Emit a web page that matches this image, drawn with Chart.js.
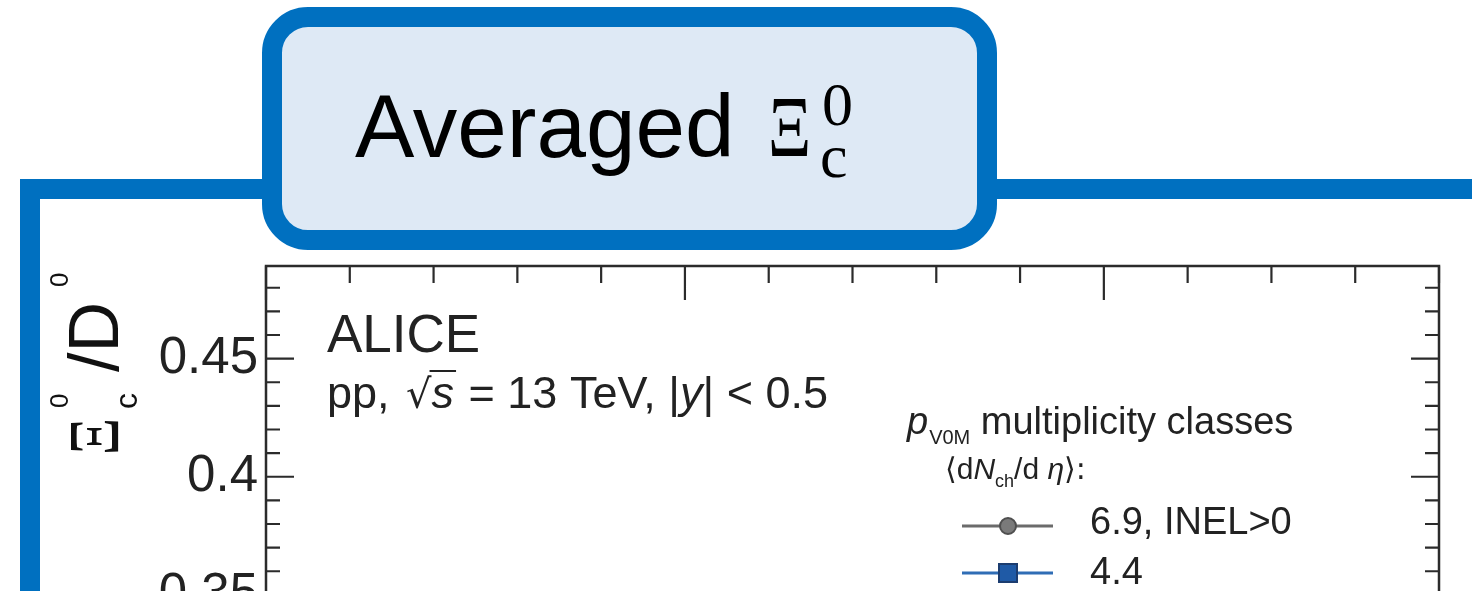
<!DOCTYPE html>
<html>
<head>
<meta charset="utf-8">
<script src="https://cdn.jsdelivr.net/npm/chart.js@4.4.1/dist/chart.umd.min.js"></script>
<style>
  html, body { margin: 0; padding: 0; width: 1472px; height: 591px; overflow: hidden; background: #fff; }
  #plot { position: absolute; left: 0; top: 0; width: 1472px; height: 713px; }
  #frame { position: absolute; left: 20px; top: 179px; width: 1472px; height: 600px;
           border-left: 20px solid #0070C0; border-top: 20px solid #0070C0; }
  #title { position: absolute; left: 262px; top: 7px; width: 695px; height: 203px;
           border: 20px solid #0070C0; border-radius: 46px; background: #DEE9F5; }
  .t { position: absolute; line-height: 1; white-space: nowrap; color: #000; }
  .sans { font-family: "Liberation Sans", Arial, Helvetica, sans-serif; }
  .serif { font-family: "Liberation Serif", "Times New Roman", serif; }
</style>
</head>
<body>
<div id="plot"><canvas id="ratio"></canvas></div>
<div id="frame"></div>
<div id="title"></div>
<span class="t sans" style="left:355px; top:82px; font-size:89px;">Averaged</span>
<span class="t serif" style="left:768px; top:84px; font-size:86px; display:inline-block; transform:scaleX(0.78); transform-origin:0 0;">Ξ</span>
<span class="t serif" style="left:822px; top:73px; font-size:62px;">0</span>
<span class="t serif" style="left:820px; top:125px; font-size:62px;">c</span>

<script>
const pTRange = [0, 14];
const ratioRange = [0.30, 0.4892];
const pTStep = 1;
const ratioStep = 0.01;
const ratioTickLabels = ['0.35', '0.4', '0.45'];

// multiplicity classes shown in the legend
const multClasses = ['6.9, INEL>0', '4.4'];
// no data point falls inside the visible part of the frame
const inelValues = [];
const class44Values = [];

const SANS = '"Liberation Sans", Arial, Helvetica, sans-serif';
const SERIF = '"Liberation Serif", "Times New Roman", serif';
const INK = '#222';

function runs(ctx, x, y, parts) {
  parts.forEach(p => {
    ctx.font = p.font;
    ctx.fillText(p.t, x, y + (p.dy || 0));
    p.x0 = x;
    x += ctx.measureText(p.t).width + (p.gap || 0);
    p.x1 = x;
  });
  return x;
}

const rootFrame = {
  id: 'rootFrame',
  afterDraw(chart) {
    const { ctx, chartArea: a, scales: { x, y } } = chart;
    ctx.save();
    ctx.strokeStyle = '#2b2b2b';
    ctx.lineWidth = 2.5;
    ctx.strokeRect(a.left, a.top, a.right - a.left, a.bottom - a.top);

    // inward ticks on all four sides
    ctx.lineWidth = 2.2;
    ctx.beginPath();
    x.ticks.forEach(t => {
      const px = x.getPixelForValue(t.value);
      const len = t.value % 5 === 0 ? 34 : 17;
      ctx.moveTo(px, a.top); ctx.lineTo(px, a.top + len);
      ctx.moveTo(px, a.bottom); ctx.lineTo(px, a.bottom - len);
    });
    y.ticks.forEach(t => {
      const py = y.getPixelForValue(t.value);
      const major = Math.abs(t.value * 20 - Math.round(t.value * 20)) < 1e-6;
      const len = major ? 28 : 14;
      ctx.moveTo(a.left, py); ctx.lineTo(a.left + len, py);
      ctx.moveTo(a.right, py); ctx.lineTo(a.right - len, py);
    });
    ctx.stroke();

    ctx.fillStyle = INK;
    ctx.textAlign = 'left';
    ctx.textBaseline = 'alphabetic';

    // labels in the frame
    ctx.font = `53px ${SANS}`;
    ctx.fillText('ALICE', a.left + 61, a.top + 86);
    const pp = [
      { t: 'pp, ', font: `45px ${SANS}`, gap: 4 },
      { t: '√', font: `40px "DejaVu Sans", ${SANS}` },
      { t: 's', font: `italic 45px ${SANS}`, gap: 2 },
      { t: ' = 13 TeV, |', font: `45px ${SANS}` },
      { t: 'y', font: `italic 45px ${SANS}` },
      { t: '| < 0.5', font: `45px ${SANS}` }
    ];
    const ppBase = a.top + 142;
    runs(ctx, a.left + 61, ppBase, pp);
    ctx.lineWidth = 2;
    ctx.strokeStyle = INK;
    ctx.beginPath();
    ctx.moveTo(pp[1].x1 - 2, ppBase - 37);
    ctx.lineTo(pp[2].x1, ppBase - 37);
    ctx.stroke();

    // legend
    runs(ctx, a.left + 641, a.top + 168, [
      { t: 'p', font: `italic 38px ${SANS}`, gap: 1 },
      { t: 'V0M', font: `20px ${SANS}`, dy: 10 },
      { t: ' multiplicity classes', font: `38px ${SANS}` }
    ]);
    runs(ctx, a.left + 679, a.top + 213, [
      { t: '⟨', font: `30px "DejaVu Sans", ${SANS}` },
      { t: 'd', font: `30px ${SANS}` },
      { t: 'N', font: `italic 30px ${SANS}` },
      { t: 'ch', font: `18px ${SANS}`, dy: 8 },
      { t: '/d ', font: `30px ${SANS}` },
      { t: 'η', font: `italic 30px ${SANS}` },
      { t: '⟩:', font: `30px "DejaVu Sans", ${SANS}` }
    ]);
    chart.data.datasets.forEach((ds, i) => {
      const ly = a.top + 260 + i * 47;
      const mx = a.left + 742;
      ctx.strokeStyle = ds.borderColor;
      ctx.lineWidth = 3;
      ctx.beginPath();
      ctx.moveTo(a.left + 696, ly); ctx.lineTo(a.left + 787, ly);
      ctx.stroke();
      ctx.fillStyle = ds.backgroundColor;
      ctx.strokeStyle = ds.pointBorderColor;
      ctx.lineWidth = 2;
      const r = ds.pointRadius;
      ctx.beginPath();
      if (ds.pointStyle === 'rect') ctx.rect(mx - r, ly - r, 2 * r, 2 * r);
      else ctx.arc(mx, ly, r, 0, Math.PI * 2);
      ctx.fill();
      ctx.stroke();
      ctx.fillStyle = INK;
      ctx.font = `38px ${SANS}`;
      ctx.fillText(ds.label, a.left + 824, ly + 8 + (i ? 3 : 0));
    });

    // rotated y title: Xi_c^0 / D^0
    ctx.translate(118, 455);
    ctx.rotate(-Math.PI / 2);
    ctx.fillStyle = '#111';
    ctx.save();
    ctx.scale(0.8, 1);
    ctx.font = `72px ${SERIF}`;
    ctx.fillText('Ξ', 0, 0);
    ctx.restore();
    ctx.font = `32px ${SANS}`;
    ctx.fillText('c', 46, 19);
    ctx.font = `26px ${SANS}`;
    ctx.fillText('0', 47, -50);
    ctx.font = `70px ${SANS}`;
    ctx.fillText('/D', 83, 0);
    ctx.font = `26px ${SANS}`;
    ctx.fillText('0', 168, -50);
    ctx.restore();
  }
};

new Chart(document.getElementById('ratio'), {
  type: 'line',
  data: {
    datasets: [
      { label: multClasses[0], data: inelValues, borderColor: '#6b6b6b', backgroundColor: '#7a7a7a',
        pointBorderColor: '#4f4f4f', pointStyle: 'circle', pointRadius: 8, borderWidth: 3 },
      { label: multClasses[1], data: class44Values, borderColor: '#2f6db5', backgroundColor: '#1f5aa6',
        pointBorderColor: '#1c3d70', pointStyle: 'rect', pointRadius: 9, borderWidth: 3 }
    ]
  },
  options: {
    responsive: true,
    maintainAspectRatio: false,
    animation: false,
    layout: { padding: { top: 266, right: 33, left: 0, bottom: 0 } },
    plugins: { legend: { display: false }, tooltip: { enabled: false } },
    scales: {
      x: {
        type: 'linear', min: pTRange[0], max: pTRange[1],
        grid: { display: false, drawTicks: false }, border: { display: false },
        ticks: { display: false, stepSize: pTStep, autoSkip: false, includeBounds: false },
        afterFit: s => { s.height = 0; s.paddingLeft = 0; s.paddingRight = 0; }
      },
      y: {
        type: 'linear', min: ratioRange[0], max: ratioRange[1],
        grid: { display: false, drawTicks: false }, border: { display: false },
        ticks: {
          stepSize: ratioStep, autoSkip: false, includeBounds: false, padding: 8,
          color: INK, font: { family: SANS, size: 51 },
          callback: v => {
            const s = String(+v.toFixed(2));
            return ratioTickLabels.includes(s) ? s : '';
          }
        },
        afterFit: s => { s.width = 266; s.paddingTop = 0; s.paddingBottom = 0; }
      }
    }
  },
  plugins: [rootFrame]
});
</script>
</body>
</html>
